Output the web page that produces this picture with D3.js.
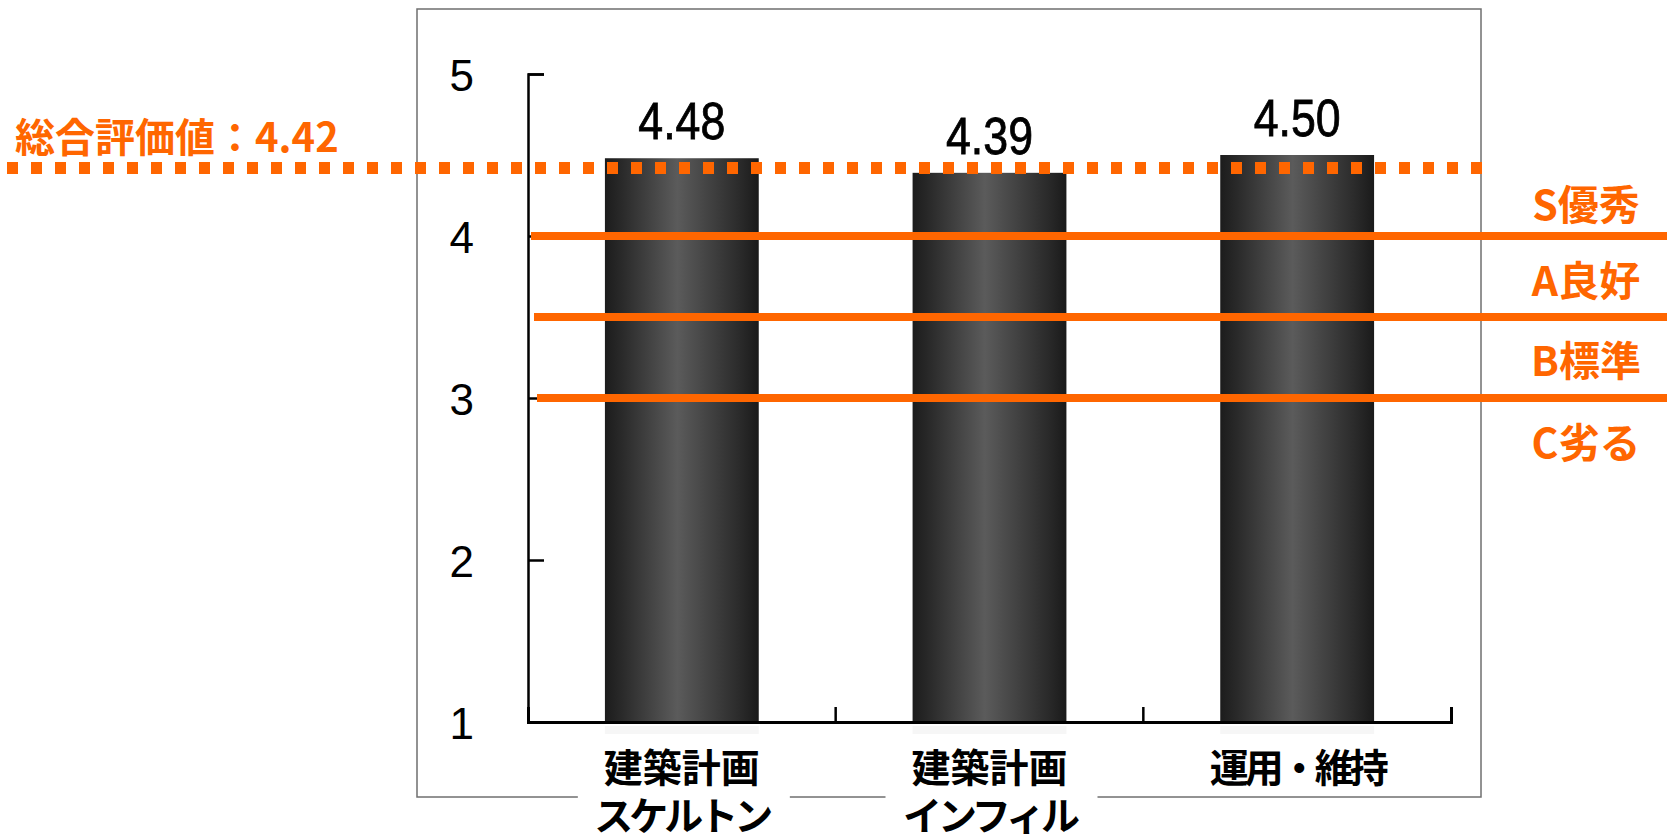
<!DOCTYPE html>
<html>
<head>
<meta charset="utf-8">
<script src="https://cdn.jsdelivr.net/npm/d3@7"></script>
<style>
body { margin: 0; background: #fff; }
</style>
</head>
<body>
<script>
//chart data

var categories = [["建築計画", "スケルトン"], ["建築計画", "インフィル"], ["運用・維持"]]; //category labels, one entry per line

var scores = [4.48, 4.39, 4.50]; //bar values

var totalScore = 4.42; //dotted line value

var totalLabel = "総合評価値："; //text before the total

var yTicks = [1, 2, 3, 4, 5]; //y axis ticks

var gradeLines = [4, 3.5, 3]; //solid orange threshold lines

var gradeLabels = ["S優秀", "A良好", "B標準", "C劣る"]; //grade names on the right

var gradeLabelAt = [4.19, 3.72, 3.23, 2.72]; //where each grade name sits, in score units

//drawing vars

var w = 1667;
var h = 837;
var orange = "#ff6600";
var jp = "'Noto Sans CJK JP', sans-serif";
var num = "'Liberation Sans', Arial, sans-serif";

var axLeft = 528; //where the y axis is
var axRight = 1451; //end of the x axis

var yScale = d3.scaleLinear()
	.domain([1, 5])
	.range([722, 74]); //pixels count from the top

var xScale = d3.scaleBand()
	.domain(d3.range(scores.length))
	.range([axLeft, axRight])
	.paddingInner(0.5)
	.paddingOuter(0.25);

var svg = d3.select("body")
	.append("svg")
	.attr("width", w)
	.attr("height", h);

//bar gradient: dark edges, lighter middle
var grad = svg.append("defs").append("linearGradient")
	.attr("id", "barGrad")
	.attr("x1", "0%").attr("x2", "100%")
	.attr("y1", "0%").attr("y2", "0%");
grad.append("stop").attr("offset", "0%").attr("stop-color", "#1c1c1c");
grad.append("stop").attr("offset", "12%").attr("stop-color", "#2b2b2b");
grad.append("stop").attr("offset", "47%").attr("stop-color", "#5b5b5b");
grad.append("stop").attr("offset", "88%").attr("stop-color", "#2a2a2a");
grad.append("stop").attr("offset", "100%").attr("stop-color", "#1a1a1a");

//outer frame
svg.append("rect")
	.attr("x", 417)
	.attr("y", 9)
	.attr("width", 1064)
	.attr("height", 788)
	.attr("fill", "none")
	.attr("stroke", "#6f6f6f")
	.attr("stroke-width", 1.5);

//faint reflection under the bars
svg.selectAll("rect.refl")
	.data(scores)
	.enter()
	.append("rect")
	.attr("class", "refl")
	.attr("x", function(d, i){ return xScale(i); })
	.attr("y", yScale(1) + 4)
	.attr("width", xScale.bandwidth())
	.attr("height", 8)
	.attr("fill", "#eeeeee")
	.attr("opacity", 0.5);

//bars
svg.selectAll("rect.bar")
	.data(scores)
	.enter()
	.append("rect")
	.attr("class", "bar")
	.attr("x", function(d, i){ return xScale(i); })
	.attr("y", function(d){ return yScale(d); })
	.attr("width", xScale.bandwidth())
	.attr("height", function(d){ return yScale(1) - yScale(d); })
	.attr("fill", "url(#barGrad)");

//value labels over the bars (a bit narrow and tall, like the original)
svg.selectAll("text.val")
	.data(scores)
	.enter()
	.append("text")
	.attr("class", "val")
	.text(function(d){ return d.toFixed(2); })
	.attr("transform", function(d, i){
		return "translate(" + (xScale(i) + xScale.bandwidth() / 2) + "," + (yScale(d) - 19) + ") scale(0.86,1)";
	})
	.attr("text-anchor", "middle")
	.attr("font-size", "52px")
	.attr("font-family", num)
	.attr("fill", "#000")
	.attr("stroke", "#000")
	.attr("stroke-width", 0.8);

//y axis, ticks point inwards
var yAxis = d3.axisLeft(yScale)
	.tickValues(yTicks)
	.tickFormat(d3.format("d"))
	.tickSizeInner(-16)
	.tickSizeOuter(-16)
	.tickPadding(54);

var yG = svg.append("g")
	.attr("transform", "translate(" + axLeft + ",0)")
	.call(yAxis);
yG.selectAll("path, line").attr("stroke", "#000").attr("stroke-width", 2.5);
yG.selectAll("text")
	.attr("font-size", "44px")
	.attr("font-family", num)
	.attr("fill", "#000")
	.attr("dy", "0.37em");

//x axis line with up ticks at the ends
var xAxis = d3.axisBottom(xScale)
	.tickSizeInner(0)
	.tickSizeOuter(-15)
	.tickFormat("");

var xG = svg.append("g")
	.attr("transform", "translate(0," + yScale(1) + ")")
	.call(xAxis);
xG.selectAll("path").attr("stroke", "#000").attr("stroke-width", 3);

//tick marks between the categories
xG.selectAll("line.sep")
	.data(d3.range(scores.length - 1))
	.enter()
	.append("line")
	.attr("class", "sep")
	.attr("x1", function(i){ return xScale(i) + xScale.bandwidth() / 2 + xScale.step() / 2; })
	.attr("x2", function(i){ return xScale(i) + xScale.bandwidth() / 2 + xScale.step() / 2; })
	.attr("y1", 0)
	.attr("y2", -15)
	.attr("stroke", "#000")
	.attr("stroke-width", 2.5);

//grade threshold lines
svg.selectAll("line.grade")
	.data(gradeLines)
	.enter()
	.append("line")
	.attr("class", "grade")
	.attr("x1", function(d, i){ return axLeft + 3 + i * 3; })
	.attr("x2", w)
	.attr("y1", function(d){ return yScale(d); })
	.attr("y2", function(d){ return yScale(d); })
	.attr("stroke", orange)
	.attr("stroke-width", 8);

//grade names
svg.selectAll("text.grade")
	.data(gradeLabels)
	.enter()
	.append("text")
	.attr("class", "grade")
	.text(function(d){ return d; })
	.attr("x", 1586)
	.attr("y", function(d, i){ return yScale(gradeLabelAt[i]) + 15; })
	.attr("text-anchor", "middle")
	.attr("font-size", "41px")
	.attr("font-weight", "bold")
	.attr("font-family", jp)
	.attr("fill", orange);

//dotted total line across the chart
svg.append("line")
	.attr("x1", 7)
	.attr("x2", 1483)
	.attr("y1", yScale(totalScore))
	.attr("y2", yScale(totalScore))
	.attr("stroke", orange)
	.attr("stroke-width", 12)
	.attr("stroke-dasharray", "11 13");

//total label
svg.append("text")
	.text(totalLabel + totalScore.toFixed(2))
	.attr("x", 15)
	.attr("y", 152)
	.attr("font-size", "40px")
	.attr("font-weight", "bold")
	.attr("font-family", jp)
	.attr("fill", orange);

//category labels with white boxes (they cut the frame)
var lineH = 48;

var cats = svg.selectAll("g.cat")
	.data(categories)
	.enter()
	.append("g")
	.attr("class", "cat")
	.attr("transform", function(d, i){ return "translate(" + (xScale(i) + xScale.bandwidth() / 2) + ",0)"; });

cats.append("rect")
	.attr("x", -104)
	.attr("y", 745)
	.attr("width", 212)
	.attr("height", function(d){ return d.length * lineH; })
	.attr("fill", "#fff");

cats.selectAll("text")
	.data(function(d){ return d; })
	.enter()
	.append("text")
	.text(function(d){ return d; })
	.attr("x", 0)
	.attr("y", function(d, j){ return 782 + j * lineH; })
	.attr("text-anchor", "middle")
	.attr("font-size", "39px")
	.attr("letter-spacing", function(d){ return d.length > 4 ? "-4px" : "0px"; })
	.attr("font-weight", "bold")
	.attr("font-family", jp)
	.attr("fill", "#000");
</script>
</body>
</html>
